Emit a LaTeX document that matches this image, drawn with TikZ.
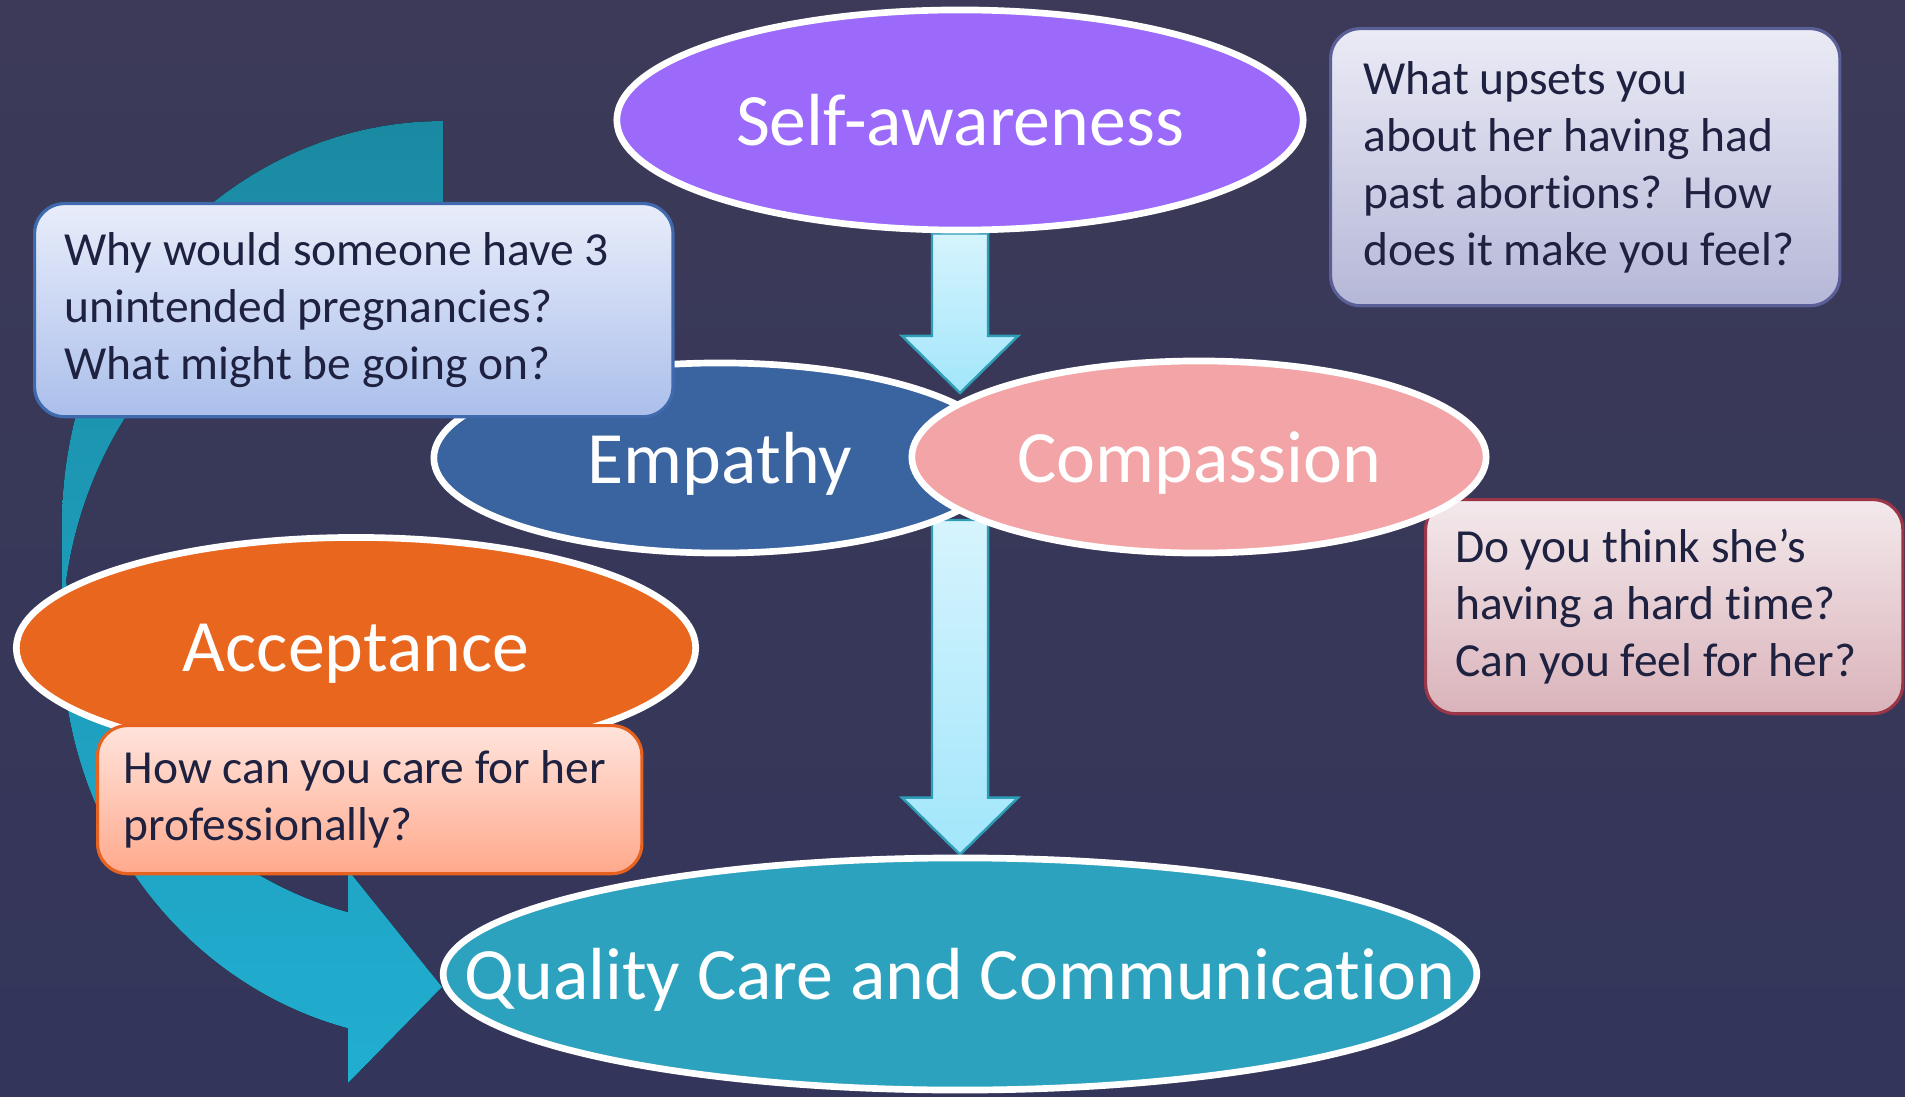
\documentclass[tikz,border=0pt]{standalone}
\usepackage{fontspec}
\setmainfont{Carlito}[Ligatures=NoCommon]
\usetikzlibrary{shapes.geometric,calc}

\definecolor{bgtop}{HTML}{3C3A58}
\definecolor{bgbot}{HTML}{33355A}
\definecolor{ink}{HTML}{1E2140}
\definecolor{selfpurple}{HTML}{9B6AFB}
\definecolor{empathyblue}{HTML}{3A64A0}
\definecolor{compassionpink}{HTML}{F2A4A6}
\definecolor{acceptorange}{HTML}{E9661E}
\definecolor{qualityteal}{HTML}{2DA2BF}
\definecolor{curvetop}{HTML}{1A8AA2}
\definecolor{curvebot}{HTML}{21AED1}
\definecolor{arrowtop}{HTML}{D6F4FD}
\definecolor{arrowbot}{HTML}{A2E6FB}
\definecolor{arrowline}{HTML}{2E9DB5}
\definecolor{feeltop}{HTML}{F3E9EC}
\definecolor{feelbot}{HTML}{DAB3BA}
\definecolor{feelline}{HTML}{9B3548}
\definecolor{whytop}{HTML}{E9EDFA}
\definecolor{whybot}{HTML}{ABBFEB}
\definecolor{whyline}{HTML}{3F6AAE}
\definecolor{caretop}{HTML}{FFE4DC}
\definecolor{carebot}{HTML}{FFA98C}
\definecolor{careline}{HTML}{E8621F}
\definecolor{upsettop}{HTML}{EBEBF6}
\definecolor{upsetbot}{HTML}{B5B7D7}
\definecolor{upsetline}{HTML}{5B5F97}

\pgfdeclarelayer{back}
\pgfdeclarelayer{links}
\pgfsetlayers{back,links,main}

% thick block arrow between two named points
\newcommand{\fatarrow}[2]{%
  \path[fat arrow] let \p1=(#1), \p2=(#2) in
    (\x1-0.28cm,\y1) -- (\x1-0.28cm,\y2+0.57cm) -- (\x1-0.58cm,\y2+0.57cm)
    -- (\x2,\y2) -- (\x1+0.58cm,\y2+0.57cm) -- (\x1+0.28cm,\y2+0.57cm)
    -- (\x1+0.28cm,\y1) -- cycle;}

\begin{document}
\frenchspacing
\begin{tikzpicture}[x=0.01cm,y=-0.01cm,
    oval/.style={ellipse,draw=white,line width=1.9pt,text=white,inner sep=0pt,
      text depth=0pt,font=\fontsize{21}{25}\selectfont},
    note/.style={draw,rounded corners=0.3cm,line width=0.9pt,text=ink,align=flush left,
      inner ysep=0pt,anchor=north west,font=\fontsize{13.5}{16.2}\selectfont},
    fat arrow/.style={draw=arrowline,line width=0.7pt,top color=arrowtop,bottom color=arrowbot}]
    \useasboundingbox (0,0) rectangle (1905,1097);

    \node[note,top color=feeltop,bottom color=feelbot,draw=feelline,
      text width=4.17cm,inner xsep=0.3cm,minimum height=2.14cm] (feel) at (1424,498)
      {Do you think she’s\\having a hard time?\\Can you feel for her?};
    \node[oval,fill=empathyblue,minimum width=5.72cm,minimum height=1.9cm] (empathy) at (720,458) {Empathy};
    \node[oval,fill=compassionpink,minimum width=5.74cm,minimum height=1.92cm] (compassion) at (1199,457) {Compassion};
    \node[oval,fill=selfpurple,minimum width=6.86cm,minimum height=2.2cm] (self) at (960,120) {Self-awareness};
    \node[oval,fill=acceptorange,minimum width=6.79cm,minimum height=2.21cm] (accept) at (356,648) {Acceptance};
    \node[oval,fill=qualityteal,minimum width=10.33cm,minimum height=2.32cm] (quality) at (960,974)
      {\makebox[0pt]{Quality Care and Communication}};
    \node[note,top color=whytop,bottom color=whybot,draw=whyline,
      text width=5.78cm,inner xsep=0.3cm,minimum height=2.13cm] (why) at (33,202)
      {Why would someone have 3\\unintended pregnancies?\\What might be going on?};
    \node[note,top color=caretop,bottom color=carebot,draw=careline,
      text width=4.92cm,inner xsep=0.26cm,minimum height=1.48cm] (care) at (96,724)
      {How can you care for her\\professionally?};
    \node[note,top color=upsettop,bottom color=upsetbot,draw=upsetline,
      text width=4.43cm,inner xsep=0.33cm,minimum height=2.77cm] (upset) at (1329,27)
      {What upsets you\\about her having had\\past abortions?~ How\\does it make you feel?};

    \coordinate (meet) at (960,393);
    \coordinate (meetlow) at (960,520);

    \begin{pgfonlayer}{back}
    \fill[top color=bgtop,bottom color=bgbot] (0,0) rectangle (1905,1097);
    % big curved arrow round the left side
    \fill[top color=curvetop,bottom color=curvebot]
      plot[domain=90:180,samples=40,variable=\t] ({443+381*cos(\t)},{523-402*sin(\t)})
      -- plot[domain=180:255.56,samples=40,variable=\t] ({443+381*cos(\t)},{639-402*sin(\t)})
      -- (348,1083) -- (442,987) -- (348,870)
      -- plot[domain=255.56:188.3,samples=40,variable=\t] ({443+381*cos(\t)},{523-402*sin(\t)})
      -- plot[domain=171.7:90,samples=40,variable=\t] ({443+381*cos(\t)},{639-402*sin(\t)})
      -- cycle;
    \end{pgfonlayer}

    \begin{pgfonlayer}{links}
    \fatarrow{self.south}{meet}
    \fatarrow{meetlow}{quality.north}
    \end{pgfonlayer}
\end{tikzpicture}
\end{document}
